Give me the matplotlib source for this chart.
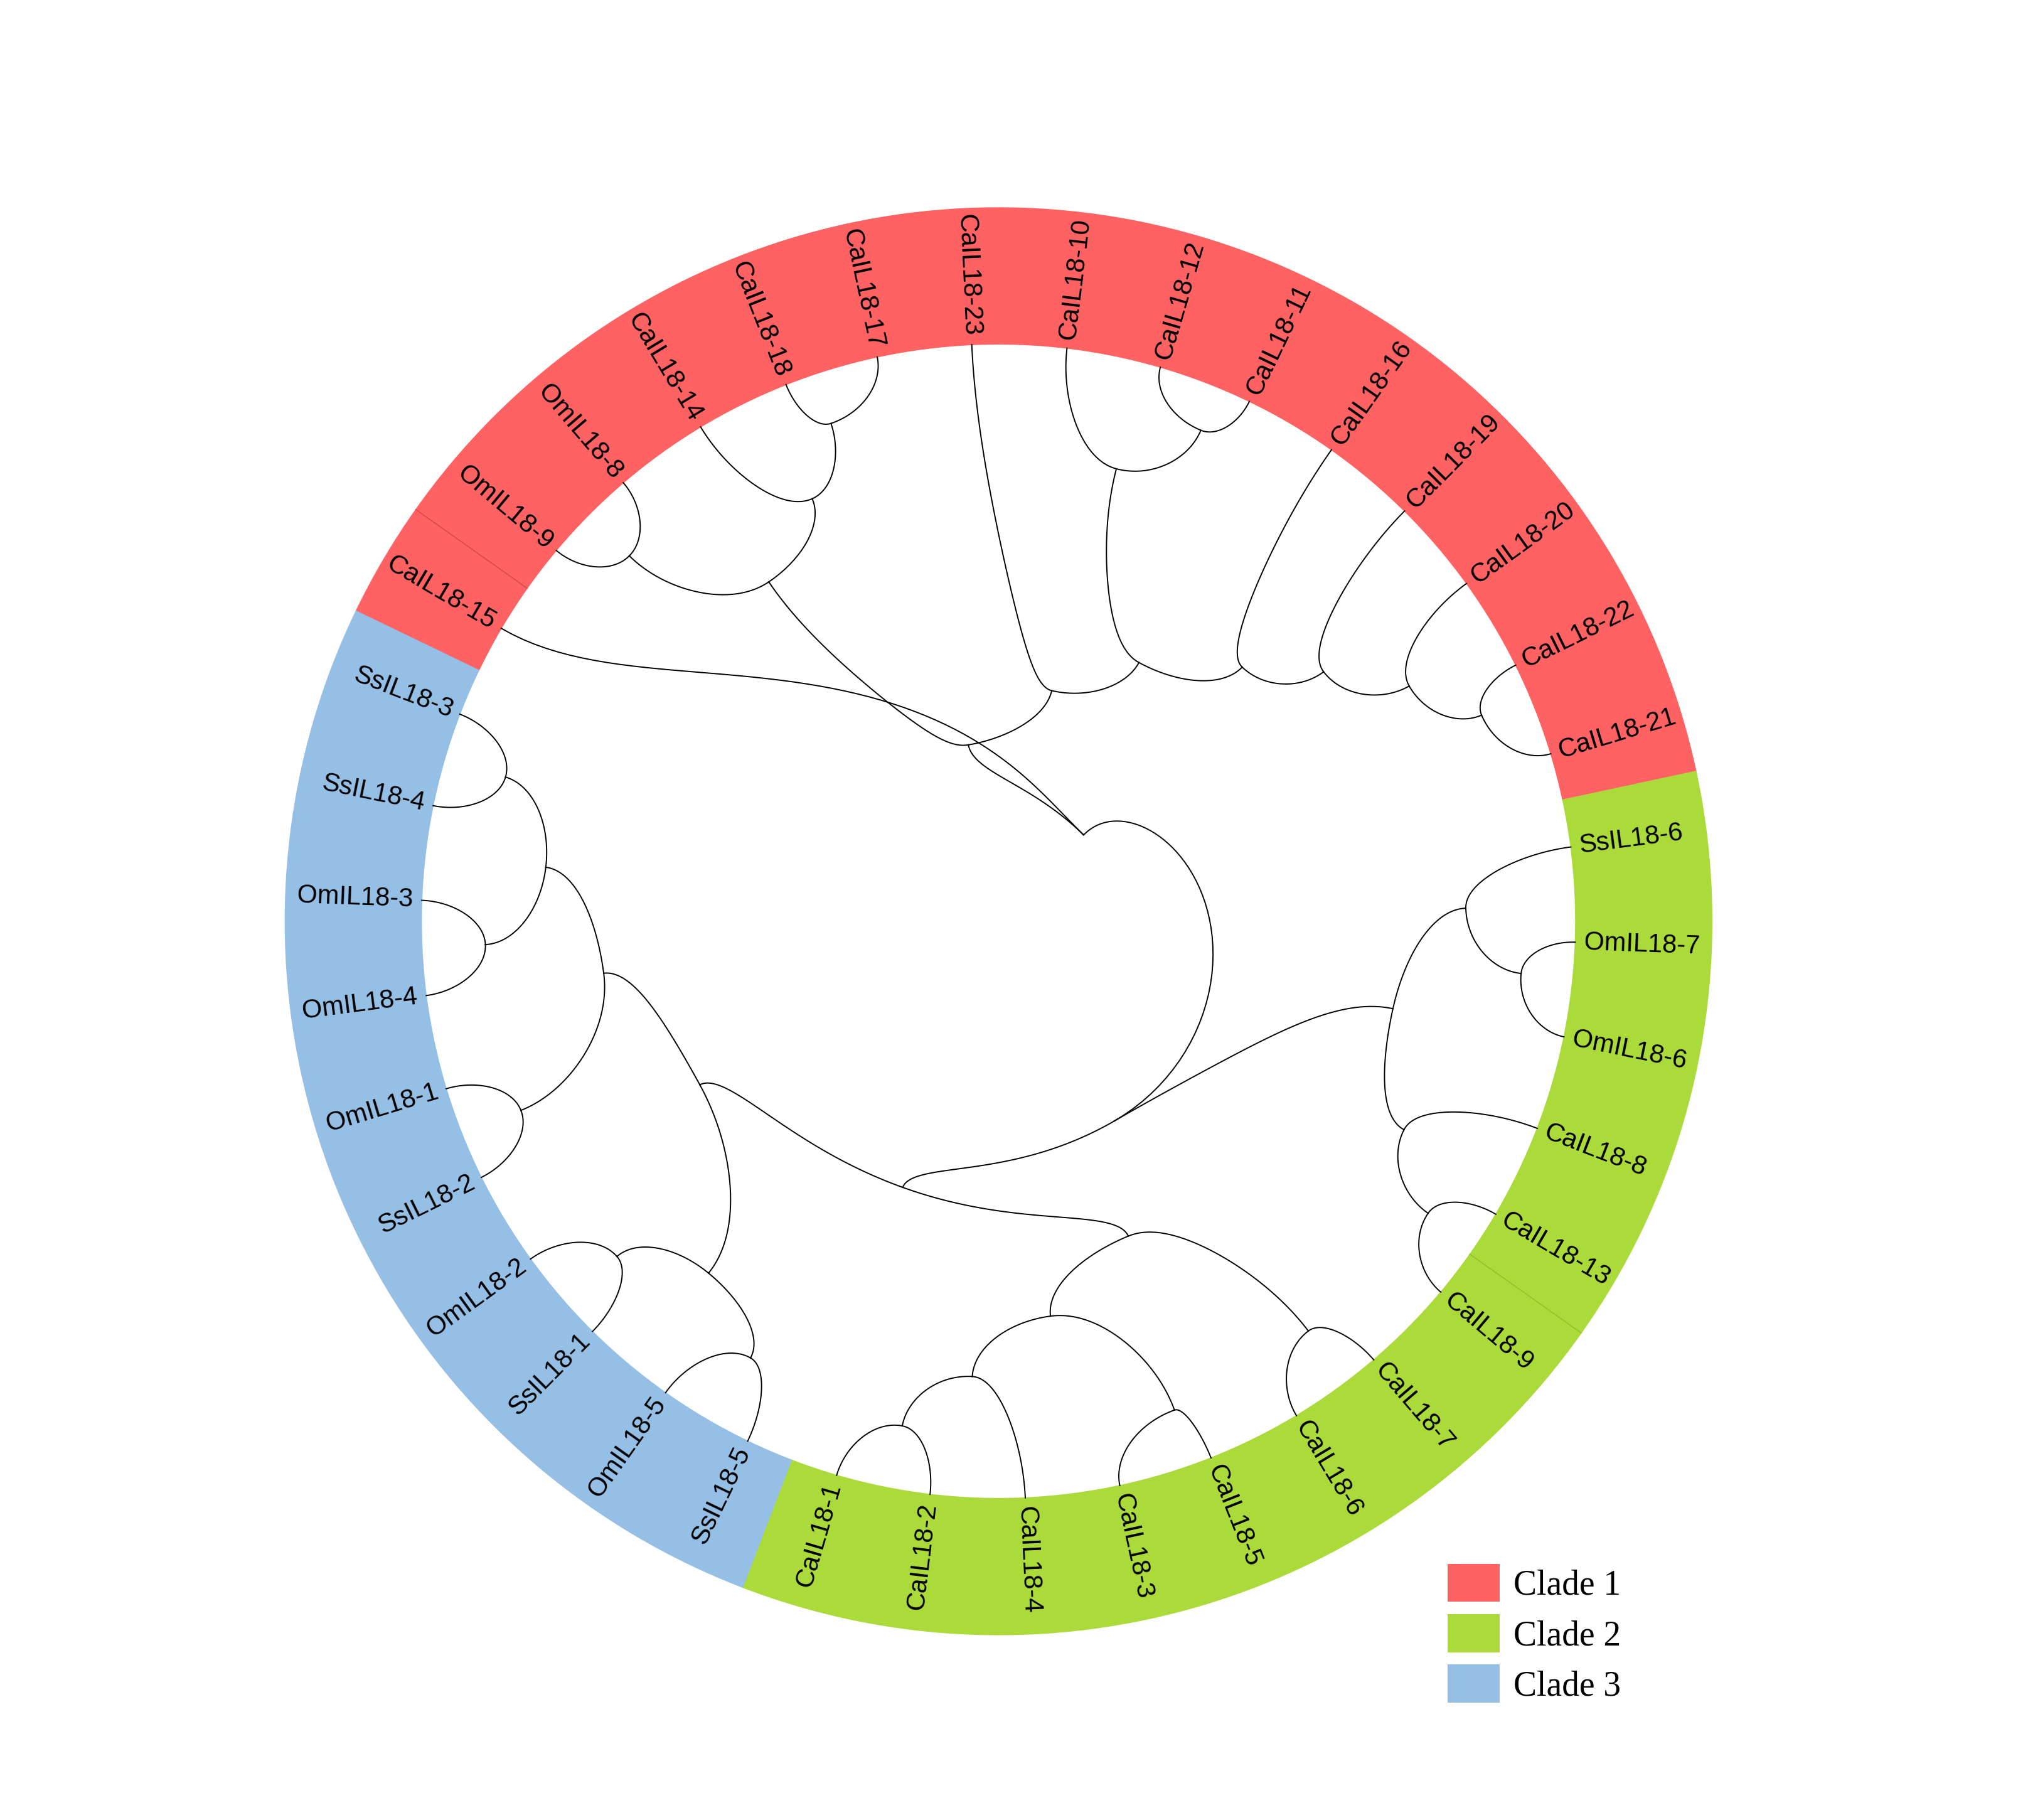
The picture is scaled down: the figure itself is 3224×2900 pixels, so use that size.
import numpy as np
import matplotlib
matplotlib.use("Agg")
import matplotlib.pyplot as plt
from matplotlib.patches import Wedge, Patch

# leaves, clockwise from CaIL18-15
leaves = [
    "CaIL18-15", "OmIL18-9", "OmIL18-8", "CaIL18-14", "CaIL18-18", "CaIL18-17",
    "CaIL18-23", "CaIL18-10", "CaIL18-12", "CaIL18-11", "CaIL18-16", "CaIL18-19",
    "CaIL18-20", "CaIL18-22", "CaIL18-21",
    "SsIL18-6", "OmIL18-7", "OmIL18-6", "CaIL18-8", "CaIL18-13", "CaIL18-9",
    "CaIL18-7", "CaIL18-6", "CaIL18-5", "CaIL18-3", "CaIL18-4", "CaIL18-2", "CaIL18-1",
    "SsIL18-5", "OmIL18-5", "SsIL18-1", "OmIL18-2", "SsIL18-2", "OmIL18-1",
    "OmIL18-4", "OmIL18-3", "SsIL18-4", "SsIL18-3",
]
leaf_clade = [1] * 15 + [2] * 13 + [3] * 10
first_angle = 149.5
clade_colors = {1: "#FF6262", 2: "#ABDA3B", 3: "#95BFE5"}
clade_labels = ["Clade 1", "Clade 2", "Clade 3"]

# internal nodes: name -> (radius, angle in degrees)
node_radius = {
    "A": 0.91, "B": 0.80, "D": 0.90, "E": 0.71, "P1211": 0.92, "L": 0.81,
    "Q": 0.91, "N1": 0.82, "N2": 0.71, "N3": 0.61, "N4": 0.51, "N5": 0.41,
    "N6": 0.31, "N7": 0.21, "N8": 0.40, "Gtop": 0.70, "G1": 0.81, "P76": 0.91,
    "G2": 0.79, "P139": 0.90, "N9": 0.49, "GL": 0.59, "P67": 0.89, "GL2": 0.69,
    "P35": 0.90, "GL3": 0.79, "P12": 0.89, "B3": 0.59, "B2": 0.69, "B1": 0.79,
    "P34s": 0.89, "P34o": 0.89, "P1_2": 0.89, "B4": 0.79, "P21": 0.88, "P55": 0.87,
}
node_angle = {
    "A": 108.6, "B": 113.8, "D": 135.3, "E": 124.1, "P1211": 67.6, "L": 75.4,
    "Q": 23.1, "N1": 29.8, "N2": 37.5, "N3": 46.2, "N4": 61.5, "N5": 77.0,
    "N6": 99.7, "N7": 45.4, "N8": -59.9, "Gtop": -12.5, "G1": 1.6, "P76": -5.7,
    "G2": -27.2, "P139": -34.2, "N9": 250.2, "GL": -67.6, "P67": -52.9, "GL2": -82.5,
    "P35": -70.2, "GL3": -93.3, "P12": -100.8, "B3": 208.7, "B2": 187.5, "B1": 173.2,
    "P34s": 163.7, "P34o": 182.6, "P1_2": 201.6, "B4": 230.5, "P21": 221.3, "P55": 240.4,
}
children = {
    "A": ["CaIL18-18", "CaIL18-17"], "B": ["CaIL18-14", "A"], "D": ["OmIL18-9", "OmIL18-8"],
    "E": ["D", "B"], "P1211": ["CaIL18-12", "CaIL18-11"], "L": ["CaIL18-10", "P1211"],
    "Q": ["CaIL18-22", "CaIL18-21"], "N1": ["CaIL18-20", "Q"], "N2": ["CaIL18-19", "N1"],
    "N3": ["CaIL18-16", "N2"], "N4": ["L", "N3"], "N5": ["CaIL18-23", "N4"],
    "N6": ["E", "N5"], "N7": ["CaIL18-15", "N6"], "N8": ["N7", "Gtop", "N9"],
    "Gtop": ["G1", "G2"], "G1": ["SsIL18-6", "P76"], "P76": ["OmIL18-7", "OmIL18-6"],
    "G2": ["CaIL18-8", "P139"], "P139": ["CaIL18-13", "CaIL18-9"], "N9": ["B3", "GL"],
    "GL": ["GL2", "P67"], "P67": ["CaIL18-7", "CaIL18-6"], "GL2": ["GL3", "P35"],
    "P35": ["CaIL18-5", "CaIL18-3"], "GL3": ["P12", "CaIL18-4"], "P12": ["CaIL18-2", "CaIL18-1"],
    "B3": ["B2", "B4"], "B2": ["B1", "P1_2"], "B1": ["P34s", "P34o"],
    "P34s": ["SsIL18-3", "SsIL18-4"], "P34o": ["OmIL18-3", "OmIL18-4"],
    "P1_2": ["OmIL18-1", "SsIL18-2"], "B4": ["P21", "P55"],
    "P21": ["OmIL18-2", "SsIL18-1"], "P55": ["OmIL18-5", "SsIL18-5"],
}

R_IN, R_OUT = 1.0, 1.236
step = 360.0 / len(leaves)
leaf_angle = {name: first_angle - i * step for i, name in enumerate(leaves)}


def polar(name):
    if name in leaf_angle:
        return R_IN, leaf_angle[name]
    return node_radius[name], node_angle[name]


fig = plt.figure(figsize=(16.12, 14.5), dpi=200)
ax = fig.add_axes([0, 0, 1, 1])
ax.set_xlim(-1.730, 1.775)
ax.set_ylim(-1.557, 1.596)
ax.set_aspect("equal")
ax.axis("off")

# coloured ring
for name, clade in zip(leaves, leaf_clade):
    a = leaf_angle[name]
    col = clade_colors[clade]
    ax.add_patch(Wedge((0, 0), R_OUT, a - step / 2, a + step / 2, width=R_OUT - R_IN,
                       facecolor=col, edgecolor=col, lw=0.6))
# faint separators seen in the reference
for name, col in [("CaIL18-15", "#D84A4A"), ("CaIL18-13", "#93C02E")]:
    a = np.radians(leaf_angle[name] - step / 2)
    ax.plot([R_IN * np.cos(a), R_OUT * np.cos(a)], [R_IN * np.sin(a), R_OUT * np.sin(a)],
            color=col, lw=0.6)

# tree edges
t = np.linspace(0, 1, 60)
for parent, kids in children.items():
    rp, ap = polar(parent)
    for kid in kids:
        rc, ac = polar(kid)
        da = (ac - ap + 180) % 360 - 180
        th = np.radians(ap + da * np.sin(t * np.pi / 2))
        rr = rp + (rc - rp) * (1 - np.cos(t * np.pi / 2))
        ax.plot(rr * np.cos(th), rr * np.sin(th), color="black", lw=0.7)

# labels
for name in leaves:
    a = (leaf_angle[name] + 180) % 360 - 180
    ar = np.radians(a)
    x, y = 1.015 * np.cos(ar), 1.015 * np.sin(ar)
    if -90 < a <= 90:
        rot, ha = a, "left"
    else:
        rot, ha = a - 180, "right"
    ax.text(x, y, name, rotation=rot, ha=ha, va="center", rotation_mode="anchor",
            fontsize=15, family="Liberation Sans")

handles = [Patch(facecolor=clade_colors[i + 1], edgecolor="none", label=lab)
           for i, lab in enumerate(clade_labels)]
fig.legend(handles=handles, loc="upper left", bbox_to_anchor=(0.700, 0.158),
           frameon=False, prop={"family": "Liberation Serif", "size": 20},
           handlelength=1.5, handleheight=1.3, handletextpad=0.4, labelspacing=0.35)

fig.savefig("out.png", dpi=200)
